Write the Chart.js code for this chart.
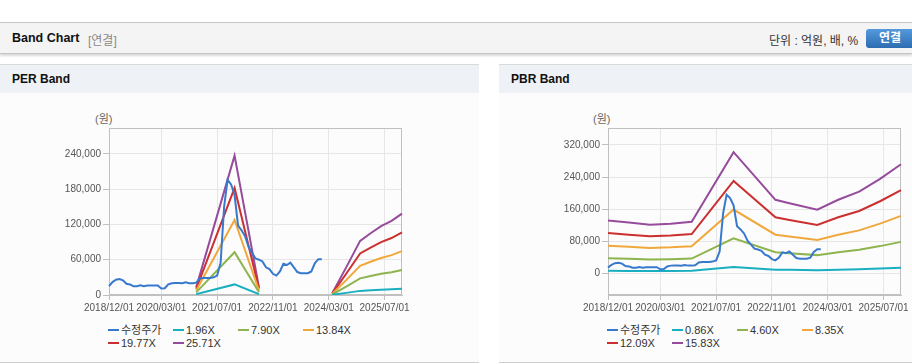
<!DOCTYPE html>
<html lang="ko">
<head>
<meta charset="utf-8">
<title>Band Chart</title>
<script src="https://cdn.jsdelivr.net/npm/chart.js@4.4.1/dist/chart.umd.min.js"></script>
<style>
  html, body { margin: 0; padding: 0; background: #fff; }
  body { width: 912px; height: 364px; position: relative; overflow: hidden;
         font-family: "Liberation Sans", Arial, "Noto Sans CJK KR", sans-serif; color: #333; }
  .topbar { position: absolute; left: 0; top: 22px; width: 912px; height: 30px; background: #f4f4f4;
            border-top: 1px solid #c6c6c6; border-bottom: 1px solid #c4c4c4; box-shadow: 0 2px 2px rgba(0,0,0,0.15); }
  .topbar .title { position: absolute; left: 12px; top: 8px; font-size: 12.5px; font-weight: bold; color: #111; }
  .topbar .sub { position: absolute; left: 88px; top: 8px; font-size: 12px; color: #8a8a8a; }
  .topbar .unit { position: absolute; left: 769px; top: 8px; font-size: 12px; color: #333; }
  .topbar .btn { position: absolute; left: 866px; top: 6px; width: 52px; height: 19px; border-radius: 3px;
                 background: linear-gradient(#559ade, #2d6cb0); color: #fff; font-weight: bold; font-size: 12px;
                 line-height: 19px; text-indent: 13px; }
  .panel { position: absolute; top: 64px; height: 297px; background: #fcfcfc;
           border-top: 1px solid #dadada; border-bottom: 1px solid #cfcfcf; }
  .panel .head { height: 28px; background: #eef2f6; font-size: 12px; font-weight: bold; color: #111;
                 line-height: 28px; padding-left: 12px; }
  .unitlabel { position: absolute; top: 110px; font-size: 11px; color: #666; }
  canvas { position: absolute; top: 93px; }
  .legend { position: absolute; top: 323px; font-size: 11px; color: #333; }
  .legend .item { position: absolute; white-space: nowrap; line-height: 14px; height: 14px; }
  .legend .mark { display: inline-block; width: 11px; height: 2px; vertical-align: middle; margin-right: 2px; margin-top: -2px; }
</style>
</head>
<body>

<div class="topbar">
  <span class="title">Band Chart</span>
  <span class="sub">[연결]</span>
  <span class="unit">단위 : 억원, 배, %</span>
  <span class="btn">연결</span>
</div>

<div class="panel" style="left:0; width:479px;"><div class="head">PER Band</div></div>
<div class="panel" style="left:499px; width:413px;"><div class="head">PBR Band</div></div>

<span class="unitlabel" style="left:95px;">(원)</span>
<span class="unitlabel" style="left:593px;">(원)</span>

<canvas id="perChart" width="479" height="225" style="left:0;"></canvas>
<canvas id="pbrChart" width="413" height="225" style="left:499px;"></canvas>

<div class="legend" id="perLegend" style="left:108px;"></div>
<div class="legend" id="pbrLegend" style="left:607px;"></div>

<script>
// 월별 카테고리 (2018/12 ~ 2025/12)
const months = [];
for (let y = 2018, m = 12; y < 2026; ) {
    months.push(y + '/' + String(m).padStart(2, '0') + '/01');
    m++;
    if (m > 12) { m = 1; y++; }
}
const xTickLabels = ['2018/12/01', '2020/03/01', '2021/07/01', '2022/11/01', '2024/03/01', '2025/07/01'];

const perYTicks = [0, 60000, 120000, 180000, 240000];
const pbrYTicks = [0, 80000, 160000, 240000, 320000];

// 수정주가 (2018/12 ~ 2024/01, 월별)
const price = [
    15000, 22000, 26000, 27000, 25000, 19000, 18000, 15000, 15000, 16500,
    15000, 16000, 16000, 16000, 16000, 11000, 11500, 18000, 20000, 20500,
    20500, 20000, 21500, 20000, 20000, 21000, 28000, 29000, 29000, 29000,
    30000, 33000, 55000, 150000, 196000, 188000, 170000, 118000, 110000, 100000,
    82000, 72000, 62000, 60000, 57000, 47000, 44000, 36000, 33000, 40000,
    53000, 51000, 55000, 47000, 39000, 37000, 37000, 37000, 40000, 54000,
    61000, 61000
];

const seriesColors = ['#3779cc', '#1aafc0', '#8db44e', '#f0a83c', '#cc2f2f', '#964b9c'];

// PER 밴드
const perNames = ['수정주가', '1.96X', '7.90X', '13.84X', '19.77X', '25.71X'];
const per196 = [['2021/01/01', 1500], ['2021/12/01', 18000], ['2022/07/01', 1500],
    ['2024/04/01', 230], ['2024/08/01', 3600], ['2024/12/01', 7000], ['2025/03/01', 8000],
    ['2025/06/01', 8900], ['2025/09/01', 9600], ['2025/12/01', 10600]];
const per790 = [['2021/01/01', 4500], ['2021/12/01', 72800], ['2022/07/01', 4500],
    ['2024/04/01', 920], ['2024/08/01', 14400], ['2024/12/01', 28300], ['2025/03/01', 32300],
    ['2025/06/01', 36000], ['2025/09/01', 38700], ['2025/12/01', 42600]];
const per1384 = [['2021/01/01', 7500], ['2021/12/01', 127500], ['2022/07/01', 7500],
    ['2024/04/01', 1600], ['2024/08/01', 25300], ['2024/12/01', 49500], ['2025/03/01', 56500],
    ['2025/06/01', 63000], ['2025/09/01', 67800], ['2025/12/01', 74600]];
const per1977 = [['2021/01/01', 10500], ['2021/12/01', 182000], ['2022/07/01', 10500],
    ['2024/04/01', 2300], ['2024/08/01', 36100], ['2024/12/01', 70700], ['2025/03/01', 80700],
    ['2025/06/01', 90000], ['2025/09/01', 96900], ['2025/12/01', 106500]];
const per2571 = [['2021/01/01', 13000], ['2021/12/01', 237000], ['2022/07/01', 13000],
    ['2024/04/01', 3000], ['2024/08/01', 47000], ['2024/12/01', 92000], ['2025/03/01', 105000],
    ['2025/06/01', 117000], ['2025/09/01', 126000], ['2025/12/01', 138500]];

// PBR 밴드
const pbrNames = ['수정주가', '0.86X', '4.60X', '8.35X', '12.09X', '15.83X'];
const pbrMonths = ['2018/12/01', '2019/06/01', '2019/12/01', '2020/06/01', '2020/12/01', '2021/12/01',
    '2022/12/01', '2023/04/01', '2023/12/01', '2024/06/01', '2024/12/01', '2025/06/01', '2025/12/01'];
const pbr086 = [7200, 6900, 6600, 6700, 7000, 16400, 10000, 9500, 8600, 10000, 11100, 12800, 14800];
const pbr460 = [38400, 36800, 35300, 36000, 37500, 87800, 53400, 50900, 46100, 53400, 59300, 68500, 79000];
const pbr835 = [69600, 66700, 64100, 65400, 68000, 159300, 96800, 92300, 83800, 96800, 107600, 124300, 143500];
const pbr1209 = [100800, 96600, 92900, 94700, 98500, 230600, 140200, 133600, 121300, 140200, 155800, 180000, 207700];
const pbr1583 = [132000, 127000, 121600, 124000, 129000, 302000, 183600, 175000, 158800, 183600, 204000, 235700, 272000];

const plotBorder = {
    id: 'plotBorder',
    beforeDatasetsDraw(chart) {
        const { ctx, chartArea: a } = chart;
        ctx.save();
        ctx.strokeStyle = '#c0c0c0';
        ctx.lineWidth = 1;
        ctx.strokeRect(Math.round(a.left) + 0.5, Math.round(a.top) + 0.5,
            Math.round(a.right - a.left) - 1, Math.round(a.bottom - a.top) - 1);
        ctx.restore();
    }
};

function pairs(list) {
    return list.map(p => ({ x: p[0], y: p[1] }));
}

function lineSet(name, data, color) {
    return {
        label: name, data: data, borderColor: color, backgroundColor: color,
        borderWidth: 2, pointRadius: 0, tension: 0, fill: false, spanGaps: 12
    };
}

function makeChart(id, datasets, yMin, yMax, yTicks, rightPad) {
    const tickFont = { family: '"Liberation Sans", Arial, sans-serif', size: 10 };
    return new Chart(document.getElementById(id), {
        type: 'line',
        data: { labels: months, datasets: datasets },
        options: {
            responsive: false,
            animation: false,
            layout: { padding: { left: 0, right: rightPad, top: 35, bottom: 0 } },
            plugins: { legend: { display: false }, tooltip: { enabled: false } },
            scales: {
                x: {
                    type: 'category', offset: false,
                    grid: { color: '#e6e6e6', tickColor: '#c0c0c0', tickLength: 5 },
                    border: { color: '#c0c0c0' },
                    ticks: { autoSkip: false, maxRotation: 0, color: '#555', font: tickFont, padding: 2 },
                    afterBuildTicks: s => { s.ticks = s.ticks.filter(t => xTickLabels.includes(months[t.value])); },
                    afterFit: s => { s.height = 23; }
                },
                y: {
                    min: yMin, max: yMax,
                    grid: { color: '#e6e6e6', tickColor: '#c0c0c0', tickLength: 6 },
                    border: { color: '#c0c0c0' },
                    ticks: { color: '#555', font: tickFont, padding: 2, callback: v => v.toLocaleString('en-US') },
                    afterBuildTicks: s => { s.ticks = yTicks.map(v => ({ value: v })); },
                    afterFit: s => { s.width = 109; }
                }
            }
        },
        plugins: [plotBorder]
    });
}

function makeLegend(id, names) {
    const box = document.getElementById(id);
    names.forEach((n, i) => {
        const el = document.createElement('div');
        el.className = 'item';
        el.style.left = (i % 4) * 65 + 'px';
        el.style.top = Math.floor(i / 4) * 13 + 'px';
        el.innerHTML = '<span class="mark" style="background:' + seriesColors[i] + '"></span>' + n;
        box.appendChild(el);
    });
}

const perBands = [per196, per790, per1384, per1977, per2571];
makeChart('perChart',
    [lineSet(perNames[0], price, seriesColors[0])].concat(
        perBands.map((b, i) => lineSet(perNames[i + 1], pairs(b), seriesColors[i + 1]))),
    0, 284000, perYTicks, 77);

const pbrBands = [pbr086, pbr460, pbr835, pbr1209, pbr1583];
makeChart('pbrChart',
    [lineSet(pbrNames[0], price, seriesColors[0])].concat(
        pbrBands.map((b, i) => lineSet(pbrNames[i + 1], b.map((v, k) => ({ x: pbrMonths[k], y: v })), seriesColors[i + 1]))),
    -53000, 362000, pbrYTicks, 11);

makeLegend('perLegend', perNames);
makeLegend('pbrLegend', pbrNames);
</script>
</body>
</html>
